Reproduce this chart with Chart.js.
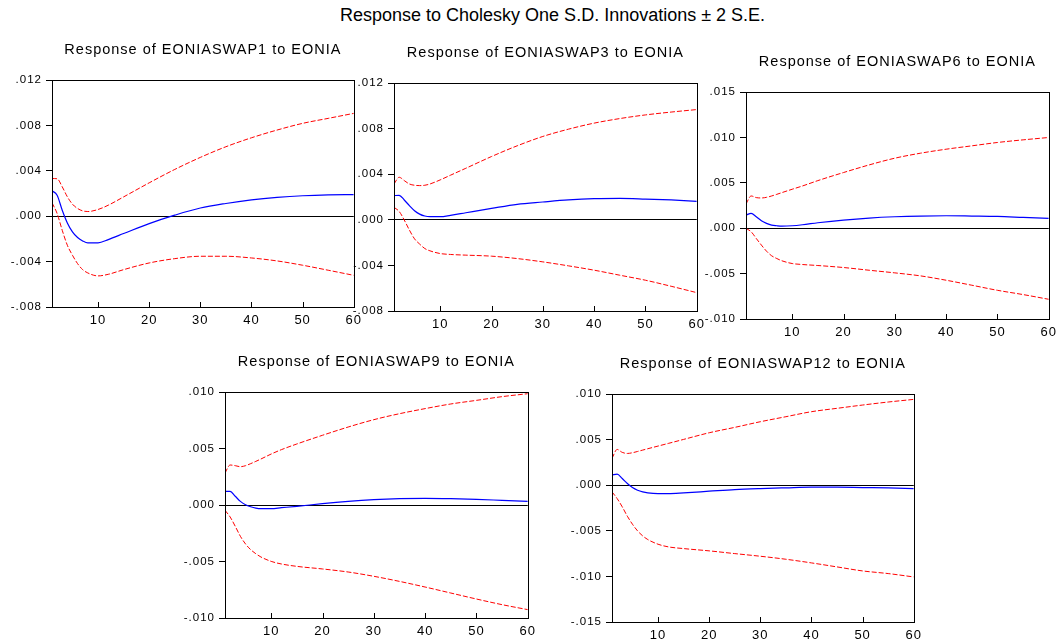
<!DOCTYPE html>
<html>
<head>
<meta charset="utf-8">
<script src="https://cdn.jsdelivr.net/npm/chart.js@4.4.1/dist/chart.umd.min.js"></script>
<style>
    body { margin: 0; background: #fff; width: 1061px; height: 643px; position: relative; overflow: hidden; font-family: "Liberation Sans", Arial, sans-serif; }
    #main-title { position: absolute; left: 340px; top: 5px; white-space: nowrap; font-size: 18px; color: #000; letter-spacing: 0; }
    canvas { position: absolute; }
</style>
</head>
<body>
<div id="main-title">Response to Cholesky One S.D. Innovations ± 2 S.E.</div>
<canvas id="swap1"></canvas>
<canvas id="swap3"></canvas>
<canvas id="swap6"></canvas>
<canvas id="swap9"></canvas>
<canvas id="swap12"></canvas>
<script>
// periods after the shock
const periods = [1, 2, 3, 4, 5, 6, 7, 8, 10, 12, 15, 20, 25, 30, 35, 40, 45, 50, 55, 60];
const xTicks = [10, 20, 30, 40, 50, 60];

const swap1Response = [0.00224, 0.00185, 0.00053, -0.00059, -0.00138, -0.00188, -0.00218, -0.00235, -0.00235, -0.00206, -0.00153, -0.00065, 0.00009, 0.00072, 0.00112, 0.00143, 0.00165, 0.0018, 0.00188, 0.0019];
const swap1Upper = [0.00332, 0.0033, 0.00259, 0.00171, 0.00106, 0.00068, 0.00047, 0.00041, 0.00059, 0.00097, 0.0017, 0.00294, 0.00412, 0.00518, 0.00612, 0.00691, 0.00759, 0.00818, 0.00862, 0.00906];
const swap1Lower = [0.00118, 0.00024, -0.00124, -0.00256, -0.00344, -0.00418, -0.00471, -0.005, -0.00526, -0.00512, -0.00471, -0.00412, -0.00374, -0.00353, -0.00353, -0.00368, -0.00394, -0.00432, -0.00476, -0.00521];

const swap3Response = [0.00212, 0.00215, 0.00174, 0.00124, 0.0008, 0.0005, 0.00033, 0.00027, 0.00027, 0.00039, 0.00062, 0.001, 0.00136, 0.00156, 0.00174, 0.00185, 0.00188, 0.00182, 0.00174, 0.00162];
const swap3Upper = [0.00314, 0.00373, 0.00344, 0.00314, 0.00303, 0.003, 0.00303, 0.00314, 0.0035, 0.00391, 0.00452, 0.00555, 0.00649, 0.00731, 0.00795, 0.00848, 0.00888, 0.0092, 0.00945, 0.00967];
const swap3Lower = [0.00109, 0.00074, -0.00002, -0.0009, -0.00167, -0.00213, -0.00252, -0.00272, -0.00296, -0.00304, -0.0031, -0.00319, -0.0034, -0.00369, -0.00404, -0.00442, -0.00486, -0.0053, -0.00583, -0.00639];

const swap6Response = [0.00145, 0.00163, 0.00126, 0.00082, 0.00053, 0.00034, 0.00027, 0.00023, 0.00027, 0.00038, 0.0006, 0.0009, 0.00112, 0.00126, 0.00134, 0.00137, 0.00134, 0.0013, 0.00119, 0.00108];
const swap6Upper = [0.00267, 0.00355, 0.00337, 0.00333, 0.0034, 0.00355, 0.00373, 0.00392, 0.00429, 0.00465, 0.00524, 0.00613, 0.00697, 0.00771, 0.00826, 0.0087, 0.00907, 0.00944, 0.00973, 0.00999];
const swap6Lower = [-0.00002, -0.00039, -0.00113, -0.00186, -0.00253, -0.00304, -0.00334, -0.00359, -0.00389, -0.004, -0.00411, -0.00433, -0.00463, -0.00492, -0.00525, -0.00573, -0.00628, -0.00684, -0.00731, -0.00783];

const swap9Response = [0.0012, 0.0012, 0.00077, 0.00032, 0.00003, -0.00015, -0.00027, -0.00032, -0.00032, -0.00024, -0.00012, 0.00012, 0.00032, 0.00047, 0.00056, 0.00059, 0.00056, 0.0005, 0.00041, 0.00032];
const swap9Upper = [0.00283, 0.00354, 0.00348, 0.00339, 0.00348, 0.00366, 0.00386, 0.00407, 0.00451, 0.0049, 0.0054, 0.00617, 0.0069, 0.00755, 0.00808, 0.00853, 0.00894, 0.00926, 0.00959, 0.00985];
const swap9Lower = [-0.00047, -0.00106, -0.00189, -0.00277, -0.00345, -0.00395, -0.00431, -0.0046, -0.00499, -0.00522, -0.00543, -0.00566, -0.00593, -0.00631, -0.00676, -0.00726, -0.00779, -0.00832, -0.00882, -0.00926];

const swap12Response = [0.00111, 0.00121, 0.00073, 0.00018, -0.00026, -0.00055, -0.00073, -0.00084, -0.00092, -0.00092, -0.00084, -0.00066, -0.00048, -0.00037, -0.00029, -0.00022, -0.00022, -0.00026, -0.00029, -0.00037];
const swap12Upper = [0.00294, 0.00392, 0.0036, 0.00348, 0.00356, 0.0037, 0.00385, 0.004, 0.00429, 0.00458, 0.00502, 0.00575, 0.00634, 0.00696, 0.00751, 0.00806, 0.00843, 0.00879, 0.00912, 0.00941];
const swap12Lower = [-0.00073, -0.00146, -0.00237, -0.0034, -0.00428, -0.00501, -0.00556, -0.00596, -0.00647, -0.00676, -0.00695, -0.0072, -0.0075, -0.00779, -0.00812, -0.00852, -0.00896, -0.0094, -0.00969, -0.01006];

const AXIS_W = 50;
const TITLE_H = 45;
const RIGHT_PAD = 12;
const BOTTOM_H = 25;

Chart.defaults.font.family = '"Liberation Sans", Arial, sans-serif';
Chart.defaults.font.size = 12;
Chart.defaults.color = '#000';

const toPoints = (values) => values.map((v, i) => ({ x: periods[i], y: v }));

const formatTick = (v) => {
    const s = Math.abs(v) < 1e-9 ? '0.000' : v.toFixed(3);
    return s.replace('0.', '.');
};

// white plot background, full frame and inward ticks on the period axis
const framePlugin = {
    id: 'frame',
    beforeDraw(chart) {
        const { ctx, chartArea: a } = chart;
        ctx.letterSpacing = '1px';
        ctx.save();
        ctx.fillStyle = '#fff';
        ctx.fillRect(a.left, a.top, a.right - a.left, a.bottom - a.top);
        ctx.restore();
    },
    afterDraw(chart) {
        const { ctx, chartArea: a } = chart;
        const x = chart.scales.x;
        ctx.save();
        ctx.strokeStyle = '#000';
        ctx.lineWidth = 1;
        ctx.strokeRect(Math.round(a.left) + 0.5, Math.round(a.top) + 0.5, Math.round(a.right - a.left), Math.round(a.bottom - a.top));
        ctx.beginPath();
        x.ticks.forEach((t) => {
            const px = Math.round(x.getPixelForValue(t.value)) + 0.5;
            ctx.moveTo(px, a.bottom);
            ctx.lineTo(px, a.bottom - 5);
        });
        ctx.stroke();
        ctx.restore();
    },
};

const createPanel = (id, box, title, yMin, yMax, step, response, upper, lower, z) => {
    const canvas = document.getElementById(id);
    const w = box.right - box.left + AXIS_W + RIGHT_PAD;
    const h = box.bottom - box.top + TITLE_H + BOTTOM_H;
    canvas.width = w;
    canvas.height = h;
    canvas.style.left = (box.left - AXIS_W) + 'px';
    canvas.style.top = (box.top - TITLE_H) + 'px';
    canvas.style.zIndex = z;

    const band = (label, values) => ({
        label,
        data: toPoints(values),
        borderColor: '#ff0000',
        borderWidth: 1,
        borderDash: [5, 2],
        pointRadius: 0,
        cubicInterpolationMode: 'monotone',
    });

    new Chart(canvas, {
        type: 'line',
        data: {
            datasets: [
                {
                    label: 'Response',
                    data: toPoints(response),
                    borderColor: '#0000ff',
                    borderWidth: 1.2,
                    pointRadius: 0,
                    cubicInterpolationMode: 'monotone',
                },
                band('+2 S.E.', upper),
                band('-2 S.E.', lower),
            ],
        },
        options: {
            responsive: false,
            animation: false,
            devicePixelRatio: 1,
            layout: { padding: { left: 0, top: 0, right: RIGHT_PAD, bottom: 0 } },
            plugins: {
                legend: { display: false },
                tooltip: { enabled: false },
                title: {
                    display: true,
                    text: title,
                    fullSize: false,
                    color: '#000',
                    font: { size: 14.5, weight: 'normal', lineHeight: 1.2 },
                    padding: { top: 6.3, bottom: 21.3 },
                },
            },
            scales: {
                x: {
                    type: 'linear',
                    min: 1,
                    max: 60,
                    afterBuildTicks: (scale) => { scale.ticks = xTicks.map((v) => ({ value: v })); },
                    afterFit: (scale) => { scale.height = BOTTOM_H; },
                    border: { display: false },
                    grid: { display: true, drawOnChartArea: false, drawTicks: false },
                    ticks: { padding: 6, maxRotation: 0, font: { size: 13 } },
                },
                y: {
                    min: yMin,
                    max: yMax,
                    afterFit: (scale) => { scale.width = AXIS_W; },
                    border: { display: false },
                    grid: {
                        color: (ctx) => (ctx.tick && Math.abs(ctx.tick.value) < 1e-9 ? '#000' : 'rgba(0,0,0,0)'),
                        tickColor: '#000',
                        tickLength: 6,
                    },
                    ticks: { stepSize: step, padding: 4, callback: formatTick, font: { size: 11.5 } },
                },
            },
        },
        plugins: [framePlugin],
    });
};

createPanel('swap1', { left: 52, top: 80, right: 355, bottom: 307 }, 'Response of EONIASWAP1 to EONIA', -0.008, 0.012, 0.004, swap1Response, swap1Upper, swap1Lower, 5);
createPanel('swap3', { left: 394, top: 83, right: 698, bottom: 311 }, 'Response of EONIASWAP3 to EONIA', -0.008, 0.012, 0.004, swap3Response, swap3Upper, swap3Lower, 4);
createPanel('swap6', { left: 746, top: 92, right: 1050, bottom: 319 }, 'Response of EONIASWAP6 to EONIA', -0.010, 0.015, 0.005, swap6Response, swap6Upper, swap6Lower, 3);
createPanel('swap9', { left: 225, top: 392, right: 529, bottom: 618 }, 'Response of EONIASWAP9 to EONIA', -0.010, 0.010, 0.005, swap9Response, swap9Upper, swap9Lower, 2);
createPanel('swap12', { left: 612, top: 394, right: 915, bottom: 622 }, 'Response of EONIASWAP12 to EONIA', -0.015, 0.010, 0.005, swap12Response, swap12Upper, swap12Lower, 1);
</script>
</body>
</html>
